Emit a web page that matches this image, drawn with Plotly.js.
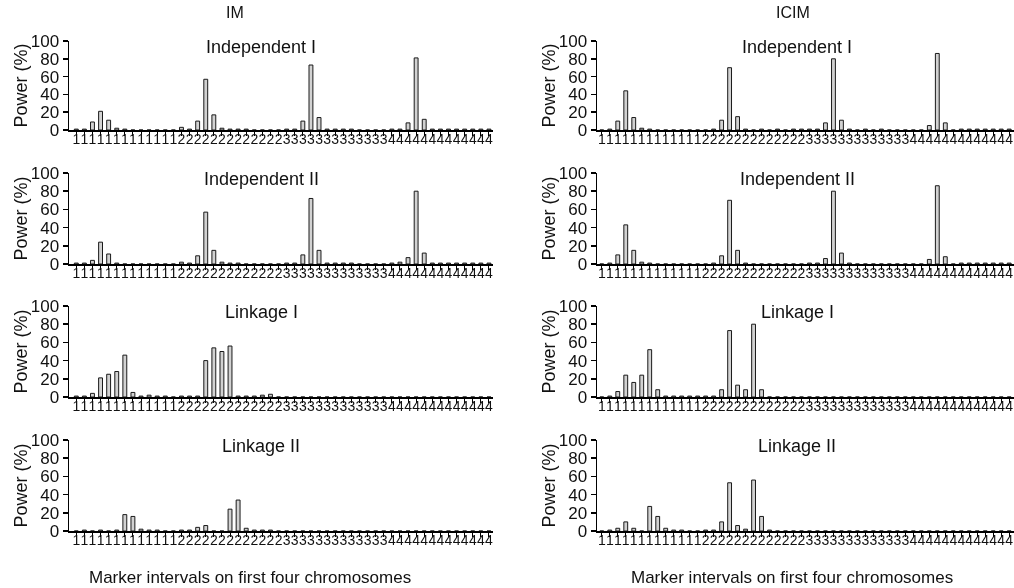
<!DOCTYPE html>
<html>
<head>
<meta charset="utf-8">
<script src="https://cdn.plot.ly/plotly-3.0.1.min.js"></script>
<style>
html,body{margin:0;padding:0;background:#fff;}
#chart{width:1014px;height:588px;filter:grayscale(100%);}
</style>
</head>
<body>
<div id="chart"></div>
<script>
// Tick labels: marker intervals on the first four chromosomes (13 intervals each)
const intervalLabels = [
  '1','1','1','1','1','1','1','1','1','1','1','1','1',
  '2','2','2','2','2','2','2','2','2','2','2','2','2',
  '3','3','3','3','3','3','3','3','3','3','3','3','3',
  '4','4','4','4','4','4','4','4','4','4','4','4','4'
];

const columnTitles = ['IM', 'ICIM'];
const rowTitles = ['Independent I', 'Independent II', 'Linkage I', 'Linkage II'];
const xAxisTitle = 'Marker intervals on first four chromosomes';
const yAxisTitle = 'Power (%)';

// Power (%) values
const imIndependentI = [
  1,1,9,21,11,2,1,0,0,0,0,0,0,
  3,1,10,57,17,2,1,1,1,0,0,0,0,
  1,1,10,73,14,1,1,1,1,0,0,0,0,
  1,1,8,81,12,1,1,1,1,1,1,1,1
];
const icimIndependentI = [
  0,1,10,44,14,2,1,0,0,0,0,0,0,
  0,1,11,70,15,1,0,1,0,1,0,1,1,
  1,1,8,80,11,1,0,1,0,1,0,0,0,
  0,0,5,86,8,0,1,1,1,1,1,1,1
];
const imIndependentII = [
  1,1,4,24,11,1,0,0,0,0,0,0,0,
  2,1,9,57,15,2,1,1,0,0,0,0,0,
  1,1,10,72,15,1,1,1,1,0,0,0,0,
  1,2,7,80,12,1,1,1,1,1,1,1,1
];
const icimIndependentII = [
  0,1,10,43,15,2,1,0,0,0,0,0,0,
  0,1,9,70,15,1,0,0,0,0,0,0,0,
  1,1,6,80,12,1,0,0,0,0,0,0,0,
  0,0,5,86,8,0,1,1,1,1,1,1,1
];
const imLinkageI = [
  1,1,4,21,25,28,46,5,1,2,1,1,0,
  1,1,1,40,54,50,56,1,1,1,2,3,0,
  0,0,0,0,0,0,0,0,0,0,0,0,0,
  0,0,0,0,0,0,0,0,0,0,0,0,0
];
const icimLinkageI = [
  0,1,6,24,16,24,52,8,1,1,1,1,1,
  1,1,8,73,13,8,80,8,0,0,0,0,0,
  0,0,0,0,0,0,0,0,0,0,0,0,0,
  0,0,0,0,0,0,0,0,0,0,0,0,0
];
const imLinkageII = [
  0,1,0,1,0,1,18,16,2,1,1,0,0,
  1,1,4,6,0,0,24,34,3,1,1,1,0,
  0,0,0,0,0,0,0,0,0,0,0,0,0,
  0,0,0,0,0,0,0,0,0,0,0,0,0
];
const icimLinkageII = [
  0,1,3,10,3,0,27,16,3,1,1,0,0,
  1,1,10,53,6,2,56,16,1,0,0,0,0,
  0,0,0,0,0,0,0,0,0,0,0,0,0,
  0,0,0,0,0,0,0,0,0,0,0,0,0
];

const panels = [
  [imIndependentI, icimIndependentI],
  [imIndependentII, icimIndependentII],
  [imLinkageI, icimLinkageI],
  [imLinkageII, icimLinkageII]
];

// ---- layout geometry (pixels) ----
const W = 1014, H = 588;
const colX = [[69, 493], [597, 1014]];
const colRange = [[-0.9, 51.5], [-0.6, 51.6]];
const rowY = [[41, 130], [173, 264], [306, 397], [440, 531]];
const font = 'Liberation Sans, Arial, Helvetica, sans-serif';

const xIdx = intervalLabels.map((_, i) => i);
const data = [];
const layout = {
  width: W, height: H,
  margin: {l: 0, r: 0, t: 0, b: 0},
  paper_bgcolor: '#fff', plot_bgcolor: '#fff',
  showlegend: false,
  font: {family: font, color: '#111'},
  annotations: []
};

let n = 0;
for (let r = 0; r < 4; r++) {
  for (let c = 0; c < 2; c++) {
    n++;
    const xa = 'x' + (n === 1 ? '' : n), ya = 'y' + (n === 1 ? '' : n);
    data.push({
      type: 'bar',
      x: xIdx,
      y: panels[r][c],
      xaxis: xa, yaxis: ya,
      width: 0.48,
      marker: {color: '#d2d2d2', line: {color: '#1a1a1a', width: 1}},
      hoverinfo: 'y'
    });
    const xk = 'xaxis' + (n === 1 ? '' : n), yk = 'yaxis' + (n === 1 ? '' : n);
    layout[xk] = {
      domain: [colX[c][0] / W, colX[c][1] / W],
      anchor: ya,
      range: colRange[c],
      tickmode: 'array',
      tickvals: xIdx,
      ticktext: intervalLabels,
      tickangle: 0,
      ticks: 'outside', ticklen: 4, tickwidth: 1, tickcolor: '#000',
      ticklabelstandoff: -8,
      ticklabeloverflow: 'allow',
      tickfont: {size: 14, family: font, color: '#111'},
      showline: true, linecolor: '#000', linewidth: 1.5,
      showgrid: false, zeroline: false, fixedrange: true
    };
    layout[yk] = {
      domain: [1 - rowY[r][1] / H, 1 - rowY[r][0] / H],
      anchor: xa,
      range: [0, 100],
      tickmode: 'array',
      tickvals: [0, 20, 40, 60, 80, 100],
      ticks: 'outside', ticklen: 5, tickwidth: 1.5, tickcolor: '#000',
      tickfont: {size: 17, family: font, color: '#111'},
      showline: true, linecolor: '#000', linewidth: 1.5,
      showgrid: false, zeroline: false, fixedrange: true
    };
    // panel title
    layout.annotations.push({
      text: rowTitles[r], xref: 'paper', yref: 'paper',
      x: (c === 0 ? 261 : 797) / W, y: 1 - (rowY[r][0] + 6) / H,
      xanchor: 'center', yanchor: 'middle', showarrow: false,
      font: {size: 18, family: font, color: '#111'}
    });
    // y axis title
    layout.annotations.push({
      text: yAxisTitle, xref: 'paper', yref: 'paper',
      x: (c === 0 ? 20 : 548) / W, y: 1 - ((rowY[r][0] + rowY[r][1]) / 2) / H,
      xanchor: 'center', yanchor: 'middle', textangle: -90, showarrow: false,
      font: {size: 18, family: font, color: '#111'}
    });
  }
}
// column titles and x-axis titles
[235, 793].forEach((x, c) => {
  layout.annotations.push({
    text: columnTitles[c], xref: 'paper', yref: 'paper',
    x: x / W, y: 1 - 13 / H, xanchor: 'center', yanchor: 'middle', showarrow: false,
    font: {size: 16, family: font, color: '#111'}
  });
});
[250, 792].forEach((x) => {
  layout.annotations.push({
    text: xAxisTitle, xref: 'paper', yref: 'paper',
    x: x / W, y: 1 - 577 / H, xanchor: 'center', yanchor: 'middle', showarrow: false,
    font: {size: 17, family: font, color: '#111'}
  });
});

Plotly.newPlot('chart', data, layout, {displayModeBar: false, staticPlot: true});
</script>
</body>
</html>
